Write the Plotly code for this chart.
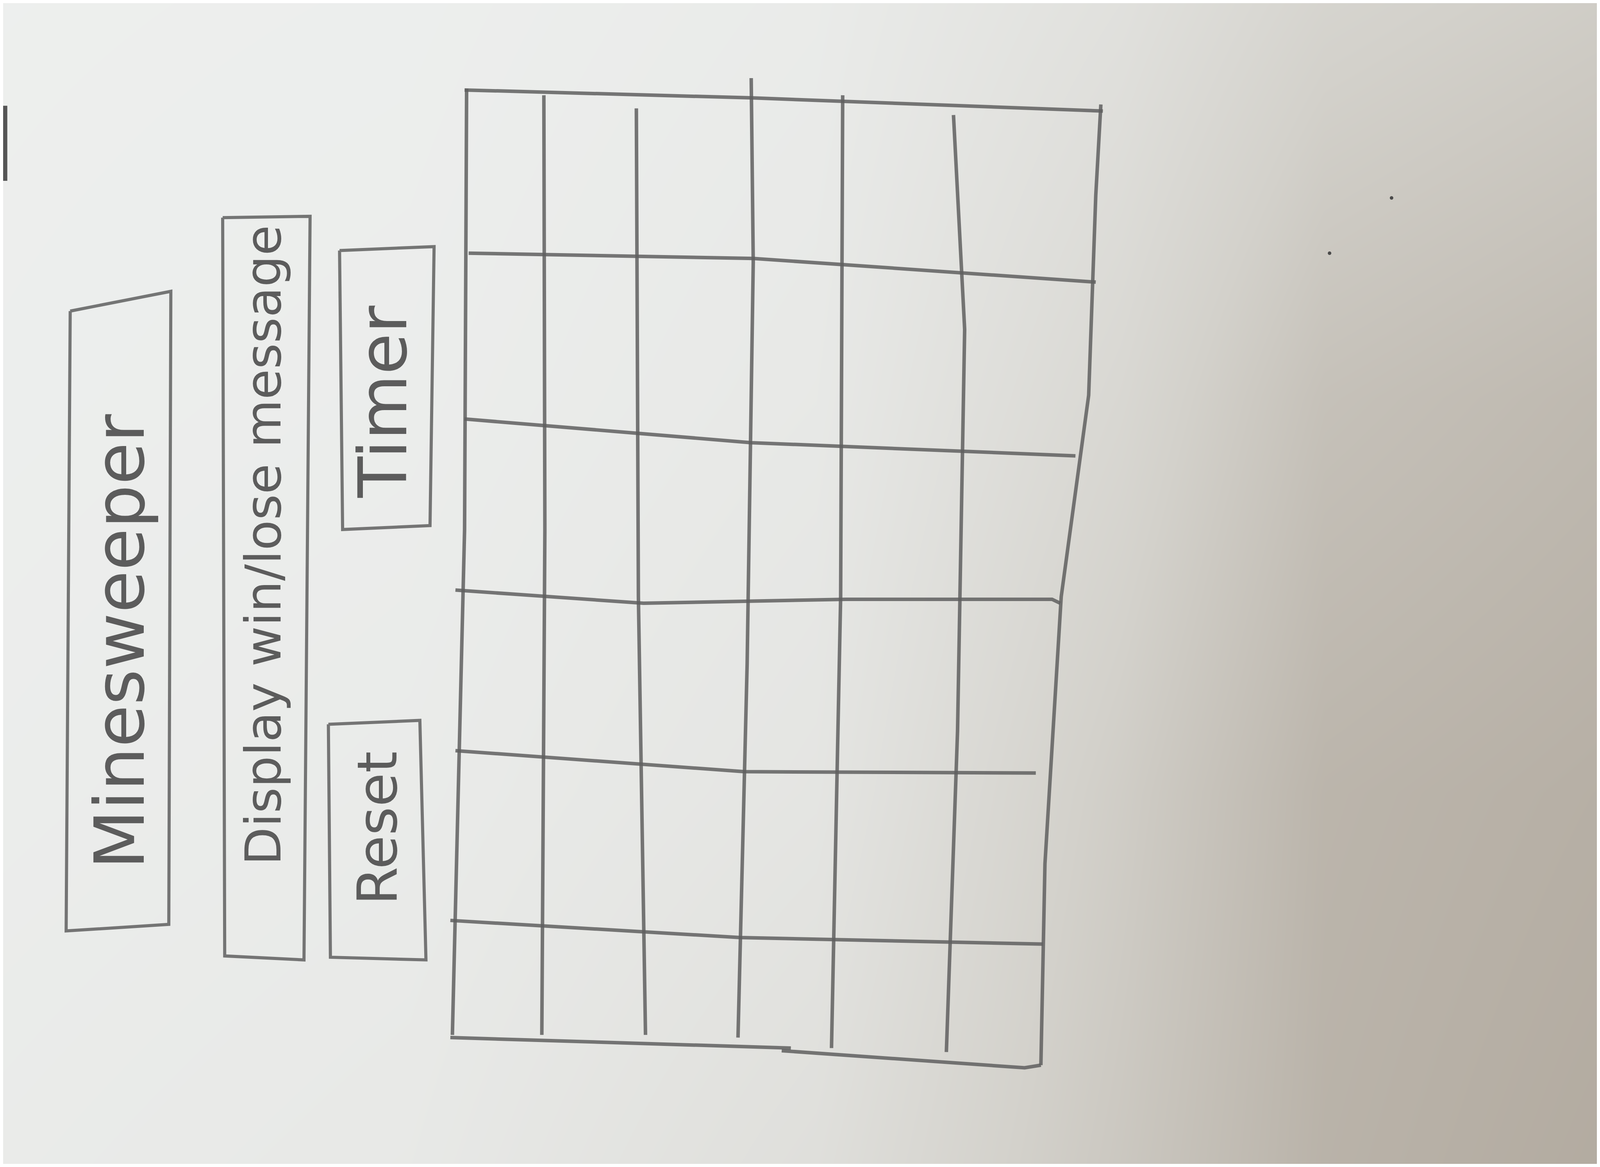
import plotly.graph_objects as go

# everything is measured on the photo scaled to 1568 x 882
PHOTO_W, PHOTO_H = 1568, 882

# paper shading: tone 0 = cool white, 1 = warm grey, read at a few spots
tone_x = [0, 400, 800, 1100, 1300, 1568]
tone_y = [0, 300, 600, 882]
tone = [
    [0.02, 0.03, 0.08, 0.25, 0.45, 0.55],
    [0.03, 0.05, 0.12, 0.40, 0.70, 0.80],
    [0.05, 0.08, 0.18, 0.55, 0.85, 0.92],
    [0.08, 0.12, 0.28, 0.62, 0.88, 0.97],
]

# pencil strokes of the 6 x 6 board, as sketched
grid_cols = [
    [(456, 65), (454, 400), (442, 784)],
    [(532, 70), (533, 400), (530, 784)],
    [(623, 80), (625, 451), (632, 784)],
    [(736, 57), (738, 197), (732, 502), (723, 786)],
    [(826, 70), (824, 451), (815, 794)],
    [(935, 85), (946, 248), (939, 553), (928, 797)],
    [(1080, 77), (1075, 146), (1068, 298), (1041, 451), (1025, 654), (1021, 807)],
]
grid_rows = [
    [(454, 66), (736, 72), (1082, 82)],
    [(458, 190), (738, 194), (1075, 212)],
    [(454, 316), (736, 334), (1055, 344)],
    [(445, 446), (630, 456), (829, 453), (1032, 453), (1040, 456)],
    [(445, 568), (729, 584), (1016, 585)],
    [(440, 697), (725, 710), (1023, 715)],
    [(440, 786), (775, 794)],
    [(766, 796), (1005, 809), (1021, 807)],
]

# the four labelled boxes
box_labels = ["Minesweeper", "Display win/lose message", "Timer", "Reset"]
box_outlines = [
    [(66, 234), (165, 219), (163, 700), (62, 705), (66, 234)],
    [(216, 163), (302, 162), (296, 727), (218, 724), (216, 163)],
    [(331, 188), (424, 185), (420, 397), (334, 400), (331, 188)],
    [(320, 548), (410, 545), (416, 727), (322, 725), (320, 548)],
]
label_x = [115, 256, 374, 368]
label_y = [485, 412, 303, 627]
label_size = [176, 127, 172, 141]

# stray marks on the paper
edge_mark = [(2, 78), (2, 135)]
speck_x = [1305, 1366]
speck_y = [190, 148]

PENCIL = "rgba(95,95,95,0.85)"


def stroke_xy(strokes):
    xs, ys = [], []
    for stroke in strokes:
        xs += [p[0] for p in stroke] + [None]
        ys += [p[1] for p in stroke] + [None]
    return xs, ys


fig = go.Figure()

fig.add_trace(go.Heatmap(
    x=tone_x, y=tone_y, z=tone, zsmooth="best", showscale=False,
    colorscale=[[0, "#eef0ef"], [0.5, "#d3d1cb"], [1, "#b1a99e"]],
    zmin=0, zmax=1, hoverinfo="skip",
))

gx, gy = stroke_xy(grid_cols + grid_rows)
fig.add_trace(go.Scatter(x=gx, y=gy, mode="lines",
                         line=dict(color=PENCIL, width=9), hoverinfo="skip"))

bx, by = stroke_xy(box_outlines)
fig.add_trace(go.Scatter(x=bx, y=by, mode="lines",
                         line=dict(color=PENCIL, width=8), hoverinfo="skip"))

ex, ey = stroke_xy([edge_mark])
fig.add_trace(go.Scatter(x=ex, y=ey, mode="lines",
                         line=dict(color="#555555", width=11), hoverinfo="skip"))

fig.add_trace(go.Scatter(x=speck_x, y=speck_y, mode="markers",
                         marker=dict(color="#4a4a4a", size=9), hoverinfo="skip"))

for text, x, y, size in zip(box_labels, label_x, label_y, label_size):
    fig.add_annotation(x=x, y=y, text=text, textangle=-90, showarrow=False,
                       font=dict(family="DejaVu Sans", size=size, color="#5c5c5c"))

fig.update_layout(
    autosize=True,
    margin=dict(l=0, r=0, t=0, b=0),
    showlegend=False,
    plot_bgcolor="#e9ebea", paper_bgcolor="#e9ebea",
    xaxis=dict(range=[0, PHOTO_W], visible=False, fixedrange=True),
    yaxis=dict(range=[PHOTO_H, 0], visible=False, fixedrange=True),
)

fig.write_html("out.html")
